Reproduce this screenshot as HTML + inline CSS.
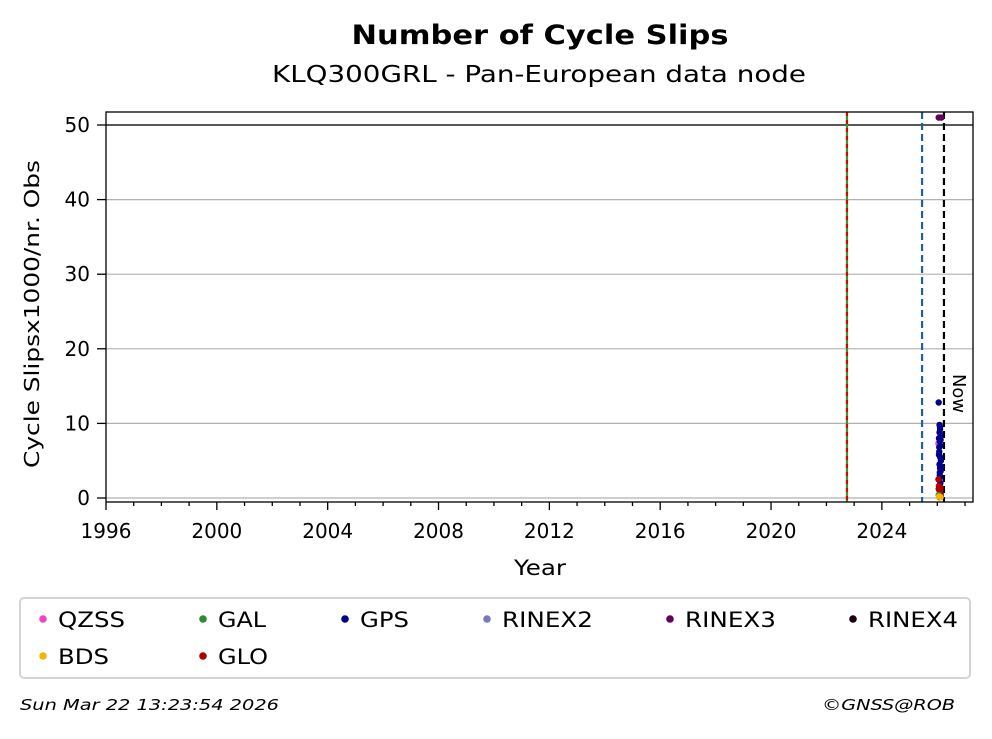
<!DOCTYPE html>
<html><head><meta charset="utf-8"><style>
body{margin:0;background:#fff;}
</style></head><body>
<svg width="992" height="734" xmlns="http://www.w3.org/2000/svg" font-family="DejaVu Sans, Liberation Sans, sans-serif">
<text x="540" y="44" text-anchor="middle" font-size="27" font-weight="bold" textLength="377" lengthAdjust="spacingAndGlyphs">Number of Cycle Slips</text>
<text x="539" y="82" text-anchor="middle" font-size="23" textLength="534" lengthAdjust="spacingAndGlyphs">KLQ300GRL - Pan-European data node</text>
<g id="grid"></g>
<g id="marks"></g>
<rect x="106" y="112" width="867" height="390" fill="none" stroke="#000" stroke-width="1.3"/>
<g id="axes" font-size="20"></g>
<text x="540" y="575" text-anchor="middle" font-size="21" textLength="52" lengthAdjust="spacingAndGlyphs">Year</text>
<text transform="translate(39,314) rotate(-90)" text-anchor="middle" font-size="20" textLength="308" lengthAdjust="spacingAndGlyphs">Cycle Slipsx1000/nr. Obs</text>
<text transform="translate(953,374) rotate(90)" font-size="18" textLength="39" lengthAdjust="spacingAndGlyphs">Now</text>
<rect x="20" y="598" width="950" height="80" rx="4" fill="#fff" stroke="#d4d4d4" stroke-width="2"/>
<g id="legend" font-size="21"></g>
<text x="20" y="710" font-size="15" font-style="italic" textLength="259" lengthAdjust="spacingAndGlyphs">Sun Mar 22 13:23:54 2026</text>
<text x="955" y="710" text-anchor="end" font-size="15" font-style="italic" textLength="133" lengthAdjust="spacingAndGlyphs">©GNSS@ROB</text>
</svg>
<script>
const yTicks=[0,10,20,30,40,50];
const xTicks=[1996,2000,2004,2008,2012,2016,2020,2024];
const gpsDates=[2026.05,2026.08,2026.1,2026.12,2026.06,2026.09,2026.11,2026.07,2026.1,2026.13,2026.08,2026.1,2026.12,2026.09,2026.07,2026.11,2026.1,2026.08,2026.12,2026.1,2026.06,2026.13,2026.09,2026.11,2026.07,2026.12,2026.1,2026.08];
const gpsValues=[12.8,9.8,9.2,8.5,8.0,7.6,7.0,6.2,5.5,5.0,4.5,4.0,3.6,3.0,2.5,2.0,1.5,1.0,0.6,0.3,5.8,4.2,3.4,2.8,6.8,7.8,9.5,8.8];
const gloDates=[2026.04,2026.06,2026.09,2026.11,2026.13,2026.08,2026.05,2026.12];
const gloValues=[2.5,1.6,1.0,0.6,0.3,0.1,1.2,1.4];
const galDates=[2026.05,2026.1];
const galValues=[0.4,0.2];
const bdsDates=[2026.06,2026.12];
const bdsValues=[0.2,0.1];
const qzssDates=[2026.04];
const qzssValues=[7.3];
const rinex3Dates=[2026.05,2026.1,2026.15];
const rinex3Values=[51,51,51];
const X=v=>106+(v-1996)*27.71;
const Y=v=>498-v*7.46;
const NS="http://www.w3.org/2000/svg";
function mk(p,t,a){const e=document.createElementNS(NS,t);for(const k in a)e.setAttribute(k,a[k]);p.appendChild(e);return e;}
const grid=document.getElementById('grid'),axes=document.getElementById('axes'),marks=document.getElementById('marks');
yTicks.forEach(v=>{
 const l=mk(grid,'line',{x1:106,x2:973,y1:Y(v),y2:Y(v),stroke:'#b0b0b0','stroke-width':1.2});
 
 
 mk(axes,'line',{x1:97,x2:106,y1:Y(v),y2:Y(v),stroke:'#000','stroke-width':1.3});
 const t=mk(axes,'text',{x:90,y:Y(v)+7,'text-anchor':'end'});t.textContent=v;
 
 
});
for(let yr=1996;yr<=2027;yr++){mk(axes,'line',{x1:X(yr),x2:X(yr),y1:502,y2:xTicks.includes(yr)?510:506,stroke:'#000','stroke-width':1.3});}
xTicks.forEach(v=>{const t=mk(axes,'text',{x:X(v),y:538,'text-anchor':'middle'});t.textContent=v;
 
 });
const h50=mk(grid,'line',{x1:106,x2:973,y1:Y(50),y2:Y(50),stroke:'#000','stroke-width':1.3});


const vl=[[2022.74,'#2a9d2a',null],[2022.74,'#d00','4,4'],[2025.45,'#1f5fa8','7,4'],[2026.24,'#000','7,4']];
vl.forEach(d=>{const a={x1:X(d[0]),x2:X(d[0]),y1:112,y2:502,stroke:d[1],'stroke-width':2.2};if(d[2])a['stroke-dasharray']=d[2];
 const l=mk(marks,'line',a);
 
 });
function pts(ds,vs,c,n){ds.forEach((d,i)=>{const e=mk(marks,'circle',{cx:X(d),cy:Y(vs[i]),r:3.2,fill:c});
 
 });}
pts(qzssDates,qzssValues,'#ee44cc','qzss-point');
pts(gpsDates,gpsValues,'#00008b','gps-point');
pts(gloDates,gloValues,'#b00000','glo-point');
pts(galDates,galValues,'#2e8b2e','gal-point');
pts(bdsDates,bdsValues,'#f2b600','bds-point');
pts(rinex3Dates,rinex3Values,'#660055','rinex3-point');
const leg=document.getElementById('legend');
const items=[['QZSS','#ee44cc',43,619,67],['GAL','#2e8b2e',203,619,48],['GPS','#00008b',345,619,49],['RINEX2','#7a7ab8',487,619,91],['RINEX3','#660055',670,619,91],['RINEX4','#1a0010',853,619,90],['BDS','#f2b600',43,656,51],['GLO','#b00000',203,656,50]];
items.forEach(it=>{const g=mk(leg,'g',{});
 
 
 mk(g,'circle',{cx:it[2],cy:it[3],r:3.8,fill:it[1]});
 const t=mk(g,'text',{x:it[2]+15,y:it[3]+8,textLength:it[4],lengthAdjust:'spacingAndGlyphs'});t.textContent=it[0];});
</script>
</body></html>
